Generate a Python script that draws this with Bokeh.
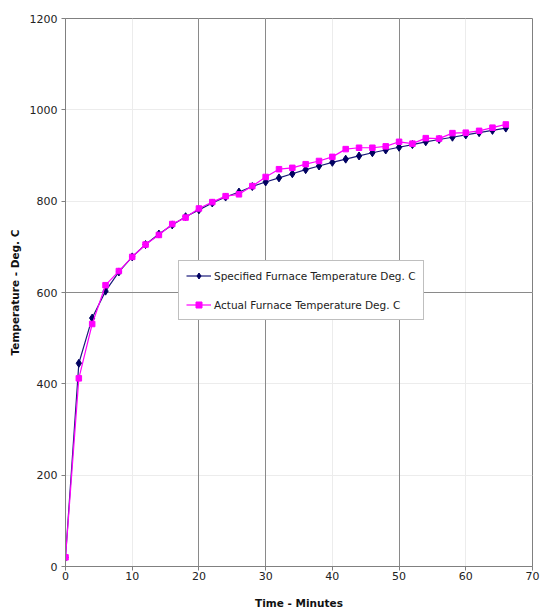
from bokeh.plotting import figure
from bokeh.models import Legend, LegendItem, Grid, FixedTicker, ColumnDataSource
from bokeh.embed import file_html
from bokeh.resources import INLINE

time_min = [0, 2, 4, 6, 8, 10, 12, 14, 16, 18, 20, 22, 24, 26, 28, 30, 32, 34,
            36, 38, 40, 42, 44, 46, 48, 50, 52, 54, 56, 58, 60, 62, 64, 66]
specified = [20, 445, 544, 603, 645, 678, 705, 728, 748, 766, 781, 796, 809, 820,
             832, 842, 851, 860, 869, 877, 885, 892, 899, 906, 912, 918, 924, 930,
             935, 940, 945, 950, 955, 960]
actual = [20, 412, 531, 616, 647, 678, 705, 726, 750, 764, 784, 798, 811, 815,
          833, 853, 870, 873, 881, 888, 897, 914, 917, 917, 920, 930, 926, 938,
          937, 949, 950, 954, 961, 968]
x_ticks = [0, 10, 20, 30, 40, 50, 60, 70]
y_ticks = [0, 200, 400, 600, 800, 1000, 1200]
series_names = ["Specified Furnace Temperature Deg. C", "Actual Furnace Temperature Deg. C"]

src = ColumnDataSource(dict(t=time_min, spec=specified, act=actual))

FONT = "DejaVu Sans"

p = figure(width=540, height=614, output_backend="svg", toolbar_location=None,
           x_range=(0, 70), y_range=(0, 1200),
           min_border_left=65, min_border_right=8, min_border_top=18, min_border_bottom=48)
p.background_fill_color = "white"
p.border_fill_color = "white"
p.outline_line_color = "#808080"
p.outline_line_width = 1

for ax in (p.xaxis, p.yaxis):
    ax.axis_line_color = "#808080"
    ax.major_tick_line_color = "#808080"
    ax.major_tick_out = 4
    ax.major_tick_in = 0
    ax.minor_tick_line_color = None
    ax.major_label_text_font = FONT
    ax.major_label_text_font_size = "11px"
    ax.major_label_text_color = "#222222"
    ax.axis_label_text_font = FONT
    ax.axis_label_text_font_size = "10.5px"
    ax.axis_label_text_font_style = "bold"
    ax.axis_label_text_color = "#111111"

p.xaxis.ticker = FixedTicker(ticks=x_ticks)
p.yaxis.ticker = FixedTicker(ticks=y_ticks)
p.xaxis.axis_label = "Time - Minutes"
p.yaxis.axis_label = "Temperature - Deg. C"
p.xaxis.major_label_standoff = 1
p.xaxis.axis_label_standoff = 14
p.yaxis.major_label_standoff = 4
p.yaxis.axis_label_standoff = 6

# light grid everywhere
p.xgrid.ticker = FixedTicker(ticks=x_ticks)
p.ygrid.ticker = FixedTicker(ticks=y_ticks)
p.xgrid.grid_line_color = "#ececec"
p.ygrid.grid_line_color = "#ececec"
# darker grid lines as seen in the reference
p.add_layout(Grid(dimension=0, ticker=FixedTicker(ticks=[20, 30, 50]),
                  grid_line_color="#8a8a8a", grid_line_width=1))
p.add_layout(Grid(dimension=1, ticker=FixedTicker(ticks=[600]),
                  grid_line_color="#8a8a8a", grid_line_width=1))

l1 = p.line("t", "spec", source=src, line_color="#1a1a7a", line_width=1.2)
m1 = p.scatter("t", "spec", source=src, marker="diamond", size=8,
               fill_color="#000060", line_color="#000060")
l2 = p.line("t", "act", source=src, line_color="#ff00ff", line_width=1.2)
m2 = p.scatter("t", "act", source=src, marker="square", size=5.5,
               fill_color="#ff00ff", line_color="#ff00ff")

legend = Legend(items=[LegendItem(label=series_names[0], renderers=[l1, m1]),
                       LegendItem(label=series_names[1], renderers=[l2, m2])],
                location=(113, 246))
legend.label_text_font = FONT
legend.label_text_font_size = "10.5px"
legend.label_text_color = "#222222"
legend.border_line_color = "#808080"
legend.border_line_width = 1
legend.background_fill_color = "white"
legend.background_fill_alpha = 1
legend.glyph_width = 25
legend.glyph_height = 15
legend.label_height = 15
legend.spacing = 14
legend.padding = 7
legend.margin = 0
legend.label_standoff = 3
p.add_layout(legend, "center")

open("out.html", "w").write(file_html(p, INLINE))
